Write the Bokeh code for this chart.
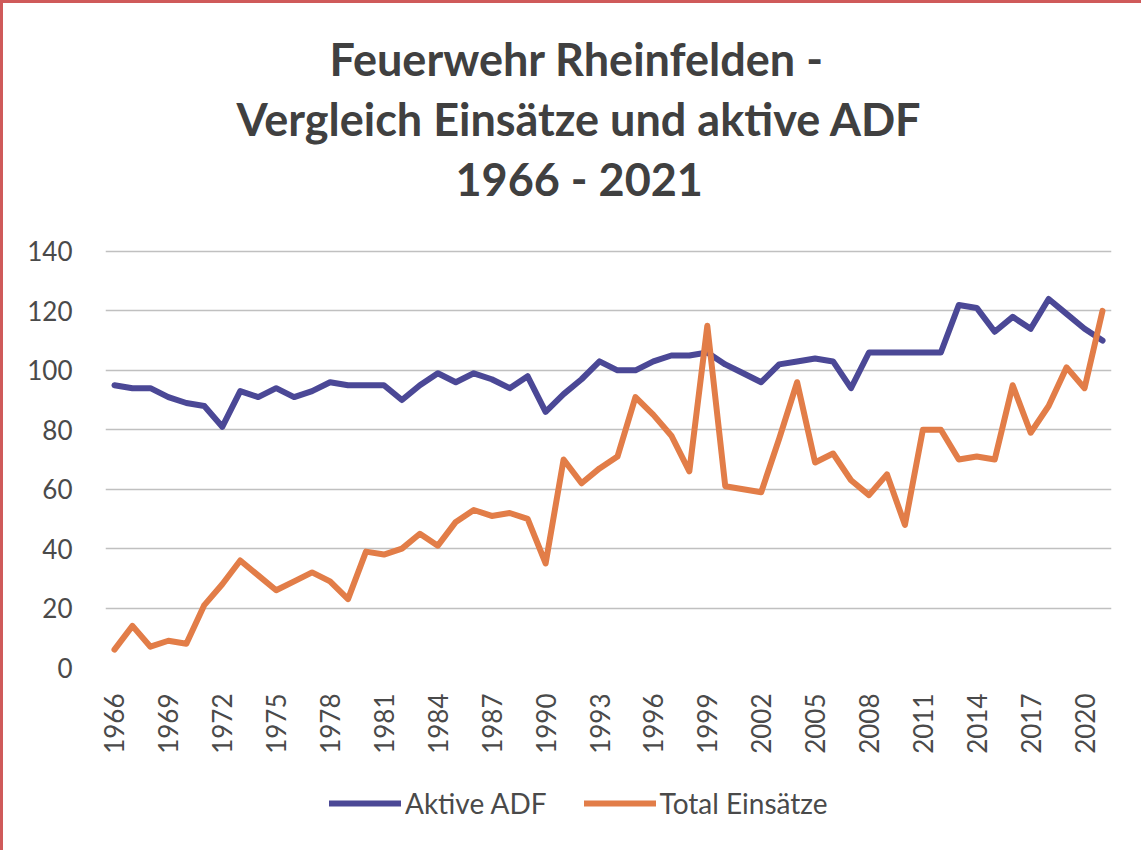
import math
from bokeh.plotting import figure
from bokeh.layouts import column
from bokeh.models import Range1d, FixedTicker, Legend, LegendItem, Title
from bokeh.embed import file_html
from bokeh.resources import INLINE

years = list(range(1966, 2022))
aktive_adf = [95, 94, 94, 91, 89, 88, 81, 93, 91, 94, 91, 93, 96, 95, 95, 95, 90, 95, 99, 96,
              99, 97, 94, 98, 86, 92, 97, 103, 100, 100, 103, 105, 105, 106, 102, 99, 96, 102,
              103, 104, 103, 94, 106, 106, 106, 106, 106, 122, 121, 113, 118, 114, 124, 119, 114, 110]
total_einsaetze = [6, 14, 7, 9, 8, 21, 28, 36, 31, 26, 29, 32, 29, 23, 39, 38, 40, 45, 41, 49,
                   53, 51, 52, 50, 35, 70, 62, 67, 71, 91, 85, 78, 66, 115, 61, 60, 59, 77, 96, 69,
                   72, 63, 58, 65, 48, 80, 80, 70, 71, 70, 95, 79, 88, 101, 94, 120]
x_ticks = [1966, 1969, 1972, 1975, 1978, 1981, 1984, 1987, 1990, 1993, 1996, 1999,
           2002, 2005, 2008, 2011, 2014, 2017, 2020]
y_ticks = [0, 20, 40, 60, 80, 100, 120, 140]
series_names = ["Aktive ADF", "Total Einsätze"]
title_lines = ["Feuerwehr Rheinfelden -", "Vergleich Einsätze und aktive ADF", "1966 - 2021"]
title_offsets = [224, 131, 350]   # left offset of each centred title line (px)
nan_pair = [float("nan"), float("nan")]   # placeholder data for legend-only glyphs

BLUE = "#4B4896"
ORANGE = "#E27D48"
TXT = "#4a4a4a"
FONT = "Lato"

p = figure(width=1138, height=760, output_backend="svg", toolbar_location=None,
           x_range=Range1d(1965.5, 2021.5), y_range=Range1d(0, 141),
           min_border_left=102, min_border_right=30, min_border_top=245, min_border_bottom=96)
p.outline_line_color = None
p.background_fill_color = "white"
p.border_fill_color = "white"
p.title.visible = False

# spacer between title block and plot area
p.add_layout(Title(text=" ", text_font_size="2px", standoff=37), "above")
for i in (2, 1, 0):
    p.add_layout(Title(text=title_lines[i], align="left", text_font=FONT, text_font_style="bold",
                       text_font_size="45px", text_color="#404040", offset=title_offsets[i],
                       standoff=4), "above")

p.line(years, aktive_adf, line_color=BLUE, line_width=6, line_join="round", line_cap="round")
p.line(years, total_einsaetze, line_color=ORANGE, line_width=6, line_join="round", line_cap="round")

p.xaxis.ticker = FixedTicker(ticks=x_ticks)
p.yaxis.ticker = FixedTicker(ticks=y_ticks)
for ax in (p.xaxis[0], p.yaxis[0]):
    ax.axis_line_color = None
    ax.major_tick_line_color = None
    ax.minor_tick_line_color = None
    ax.major_label_text_font = FONT
    ax.major_label_text_font_size = "26px"
    ax.major_label_text_color = TXT
p.xaxis.major_label_orientation = math.pi / 2
p.xaxis.major_label_standoff = 20
p.yaxis.major_label_standoff = 27

p.xgrid.grid_line_color = None
p.ygrid.grid_line_color = "#c0c0c0"
p.ygrid.grid_line_width = 1.5

# legend strip underneath the chart
q = figure(width=1138, height=87, output_backend="svg", toolbar_location=None,
           x_axis_type=None, y_axis_type=None, x_range=Range1d(0, 1), y_range=Range1d(0, 1),
           min_border_left=0, min_border_right=0, min_border_top=0, min_border_bottom=0)
q.outline_line_color = None
q.grid.visible = False
q.border_fill_color = "white"
r1 = q.line(nan_pair, nan_pair, line_color=BLUE, line_width=6, line_cap="round")
r2 = q.line(nan_pair, nan_pair, line_color=ORANGE, line_width=6, line_cap="round")
legend = Legend(items=[LegendItem(label=series_names[0], renderers=[r1]),
                       LegendItem(label=series_names[1], renderers=[r2])],
                orientation="horizontal", location=(224, 30),
                glyph_width=72, glyph_height=20, label_standoff=4, spacing=37,
                label_text_font=FONT, label_text_font_size="28px", label_text_color=TXT,
                border_line_color=None, background_fill_alpha=0, padding=0, margin=0)
q.add_layout(legend, "center")

layout = column(p, q, spacing=0,
                styles={"border-top": "3px solid #cf5a5a", "border-left": "3px solid #cf5a5a"})

open("out.html", "w").write(file_html(layout, INLINE))
